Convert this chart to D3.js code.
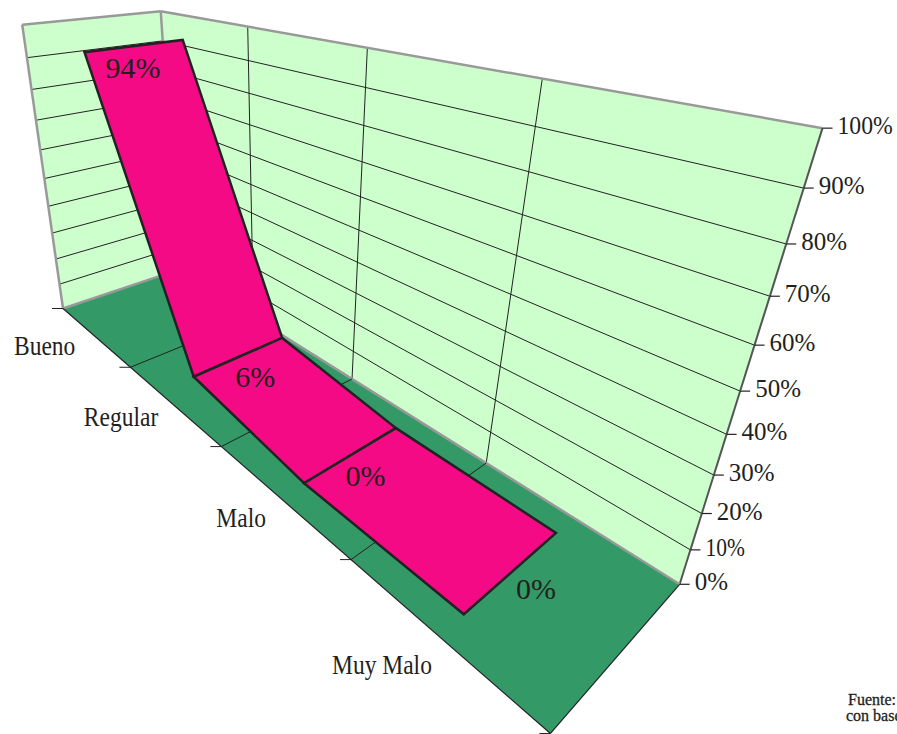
<!DOCTYPE html>
<html>
<head>
<meta charset="utf-8">
<script src="https://cdnjs.cloudflare.com/ajax/libs/d3/7.8.5/d3.min.js"></script>
<style>
html, body { margin: 0; padding: 0; background: #fff; overflow: hidden; }
text { font-family: "Liberation Serif", serif; fill: #231f20; }
</style>
</head>
<body>
<div id="chart"></div>
<script>
var categories = ['Bueno', 'Regular', 'Malo', 'Muy Malo'];
var values = [94, 6, 0, 0];
var valueLabels = ['94%', '6%', '0%', '0%'];
var valueTicks = [0, 10, 20, 30, 40, 50, 60, 70, 80, 90, 100];

var width = 897, height = 734;

// reference points of the box, [u, v, h, screenX, screenY, weight]
var anchors = [
    [0, 0, 0, 64, 308, 8], [4, 0, 0, 550, 735, 4], [0, 1, 0, 160, 276, 2], [4, 1, 0, 680, 584, 8],
    [0, 0, 1, 21, 25, 8], [0, 1, 1, 162, 11, 8], [4, 1, 1, 822, 128, 8],
    [1, 1, 1, 249, 28, 1], [2, 1, 1, 368, 48, 1], [3, 1, 1, 542, 80, 1],
    [2, 1, 0, 354, 381, 1], [3, 1, 0, 487, 463, 1],
    [1, 0, 0, 133, 368, 1], [2, 0, 0, 224, 447, 1], [3, 0, 0, 352, 562, 1]
];

// weighted least squares fit of the camera matrix, last element fixed at 1
function fitCamera(pts) {
    var rows = [];
    pts.forEach(function(p) {
        var u = p[0], v = p[1], h = p[2], x = p[3], y = p[4], w = p[5];
        rows.push([u, v, h, 1, 0, 0, 0, 0, -x * u, -x * v, -x * h, x].map(function(c) { return c * w; }));
        rows.push([0, 0, 0, 0, u, v, h, 1, -y * u, -y * v, -y * h, y].map(function(c) { return c * w; }));
    });
    var n = 11, A = [];
    for (var i = 0; i < n; i++) {
        A.push([]);
        for (var j = 0; j <= n; j++) {
            A[i].push(d3.sum(rows, function(r) { return r[i] * r[j]; }));
        }
    }
    for (i = 0; i < n; i++) {
        var best = i;
        for (j = i + 1; j < n; j++) if (Math.abs(A[j][i]) > Math.abs(A[best][i])) best = j;
        var tmp = A[i]; A[i] = A[best]; A[best] = tmp;
        for (j = 0; j < n; j++) {
            if (j === i) continue;
            var f = A[j][i] / A[i][i];
            for (var k = i; k <= n; k++) A[j][k] -= f * A[i][k];
        }
    }
    return A.map(function(r, idx) { return r[n] / r[idx]; });
}

var cam = fitCamera(anchors);

function project(u, v, h) {
    var w = cam[8] * u + cam[9] * v + cam[10] * h + 1;
    return [
        (cam[0] * u + cam[1] * v + cam[2] * h + cam[3]) / w,
        (cam[4] * u + cam[5] * v + cam[6] * h + cam[7]) / w
    ];
}

var uScale = d3.scalePoint().domain(categories).range([0, 4]).padding(0.5);
var hScale = d3.scaleLinear().domain([0, 100]).range([0, 1]);
var ribbonFront = 0.16, ribbonBack = 0.85;

var line = d3.line();

var svg = d3.select('#chart').append('svg')
    .attr('width', width)
    .attr('height', height)
    .style('display', 'block');

function poly(pts, fill, stroke, sw) {
    return svg.append('path')
        .attr('d', line(pts) + 'Z')
        .attr('fill', fill)
        .attr('stroke', stroke || 'none')
        .attr('stroke-width', sw || 0)
        .attr('stroke-linejoin', 'miter');
}

function seg(a, b, stroke, sw) {
    return svg.append('path')
        .attr('d', line([a, b]))
        .attr('fill', 'none')
        .attr('stroke', stroke)
        .attr('stroke-width', sw);
}

// walls
poly([project(0, 0, 0), project(0, 1, 0), project(0, 1, 1), project(0, 0, 1)], '#ccffcc');
poly([project(0, 1, 0), project(4, 1, 0), project(4, 1, 1), project(0, 1, 1)], '#ccffcc');

// wall grid
valueTicks.slice(1, -1).forEach(function(t) {
    var h = hScale(t);
    seg(project(0, 0, h), project(0, 1, h), '#222', 1);
    seg(project(0, 1, h), project(4, 1, h), '#222', 1);
});
[1, 2, 3].forEach(function(u) {
    seg(project(u, 1, 0), project(u, 1, 1), '#222', 1);
});

// wall borders
seg(project(0, 0, 1), project(0, 1, 1), '#999', 2.5);
seg(project(0, 1, 1), project(4, 1, 1), '#999', 2.5);
seg(project(0, 0, 0), project(0, 0, 1), '#999', 2.5);
seg(project(0, 1, 0), project(0, 1, 1), '#999', 2.5);
seg(project(4, 1, 0), project(4, 1, 1), '#555', 2);

// floor
poly([project(0, 0, 0), project(4, 0, 0), project(4, 1, 0), project(0, 1, 0)], '#339966');
seg(project(0, 0, 0), project(0, 1, 0), '#999', 2.5);
seg(project(0, 1, 0), project(4, 1, 0), '#999', 2.5);
seg(project(0, 0, 0), project(4, 0, 0), '#222', 1.2);
seg(project(4, 0, 0), project(4, 1, 0), '#222', 1.2);
[1, 2, 3].forEach(function(u) {
    seg(project(u, 0, 0), project(u, 1, 0), '#222', 1);
});

// category ticks
[0, 1, 2, 3, 4].forEach(function(u) {
    var p = project(u, 0, 0);
    seg([p[0] - 11, p[1]], p, '#222', 1);
});

// value ticks and labels, the 1 is narrower in the original face
valueTicks.forEach(function(t) {
    var p = project(4, 1, hScale(t));
    var sx = t === 100 ? 0.95 : (t === 10 ? 0.86 : 1);
    seg(p, [p[0] + 10, p[1]], '#222', 1.2);
    svg.append('text')
        .attr('transform', 'translate(' + (p[0] + 15) + ',' + (p[1] + 6) + ') scale(' + sx + ',1)')
        .style('font-size', '25px')
        .text(t + '%');
});

// ribbon
d3.pairs(categories).forEach(function(pair) {
    var a = categories.indexOf(pair[0]), b = categories.indexOf(pair[1]);
    var ua = uScale(pair[0]), ub = uScale(pair[1]);
    var ha = hScale(values[a]), hb = hScale(values[b]);
    poly([
        project(ua, ribbonFront, ha), project(ub, ribbonFront, hb),
        project(ub, ribbonBack, hb), project(ua, ribbonBack, ha)
    ], '#f50a85', '#222', 2.5);
});

// value labels
var labelNudge = [[-2, 32], [16, 30], [14, 31], [24, 27]];
valueLabels.forEach(function(d, i) {
    var p = project(uScale(categories[i]), 0.5, hScale(values[i]));
    svg.append('text')
        .attr('x', p[0] + labelNudge[i][0])
        .attr('y', p[1] + labelNudge[i][1])
        .attr('text-anchor', 'middle')
        .style('font-size', '30px')
        .text(d);
});

// category labels
var categoryNudge = [[-19, 19], [-14, 22], [-14, 29], [-7, 38]];
categories.forEach(function(d, i) {
    var p = project(uScale(d), 0, 0);
    svg.append('text')
        .attr('transform', 'translate(' + (p[0] + categoryNudge[i][0]) + ',' + (p[1] + categoryNudge[i][1]) + ') scale(0.84,1)')
        .attr('text-anchor', 'end')
        .style('font-size', '28px')
        .text(d);
});

// source note, cut by the page edge as in the original
svg.append('text').attr('x', 848).attr('y', 705)
    .style('font-size', '16px').style('stroke', '#231f20').style('stroke-width', 0.3).text('Fuente:');
svg.append('text').attr('x', 846).attr('y', 721)
    .style('font-size', '16px').style('stroke', '#231f20').style('stroke-width', 0.3).text('con base');
</script>
</body>
</html>
